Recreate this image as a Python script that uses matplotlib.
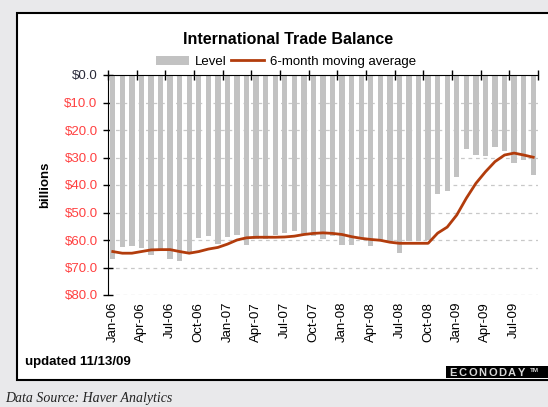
import matplotlib.pyplot as plt
from matplotlib.patches import Rectangle, Patch
from matplotlib.lines import Line2D

plt.rcParams.update({
    "font.family": ["Liberation Sans", "DejaVu Sans"],
    "font.size": 9,
})
BAR, LINE, RED, BG = "#c2c2c2", "#b23c0c", "#ff4040", "#e9e9eb"

# trade deficit, $ billions, Jan-06 .. Sep-09
level = [66.8, 62.5, 62.2, 63.0, 65.3, 63.4, 66.9, 67.8, 64.8, 59.3, 58.6, 61.4,
         58.9, 58.1, 61.7, 59.5, 59.8, 58.1, 57.4, 56.6, 57.9, 58.5, 59.8, 58.4,
         61.8, 61.7, 59.5, 62.2, 60.1, 60.4, 64.9, 60.2, 60.3, 59.9, 43.4, 42.1,
         37.2, 26.8, 29.1, 29.6, 26.3, 27.7, 32.1, 30.9, 36.4]
moving_avg = [64.2, 64.8, 64.8, 64.2, 63.6, 63.5, 63.5, 64.2, 64.8, 64.2, 63.3, 62.7,
              61.5, 60.0, 59.2, 59.0, 59.0, 59.0, 58.9, 58.6, 58.0, 57.6, 57.4, 57.6,
              58.0, 58.8, 59.4, 59.8, 60.1, 60.8, 61.2, 61.2, 61.2, 61.2, 57.5, 55.3,
              50.9, 44.8, 39.4, 35.2, 31.5, 29.1, 28.4, 29.1, 29.9]
quarter_labels = ["Jan-06", "Apr-06", "Jul-06", "Oct-06", "Jan-07", "Apr-07", "Jul-07",
                  "Oct-07", "Jan-08", "Apr-08", "Jul-08", "Oct-08", "Jan-09", "Apr-09",
                  "Jul-09"]
y_ticks = [0, 10, 20, 30, 40, 50, 60, 70, 80]

n = len(level)
x = list(range(n))

fig = plt.figure(figsize=(5.48, 4.07), dpi=100, facecolor=BG)
W, H = 548, 407

# white panel with black frame (right side runs off the image)
fig.add_artist(Rectangle((17 / W, 1 - 380 / H), 600 / W, 367 / H, transform=fig.transFigure,
                         facecolor="white", edgecolor="black", lw=1.5, zorder=0))

ax = fig.add_axes([108 / W, 1 - 295 / H, 430 / W, 220 / H])
ax.set_facecolor("white")
ax.bar(x, level, width=0.55, color=BAR, zorder=2)
ax.plot(x, moving_avg, color=LINE, lw=2, zorder=3)

ax.set_xlim(-0.5, n - 0.5)
ax.set_ylim(80, 0)
ax.set_yticks(y_ticks)
ax.set_yticklabels([f"${v:.1f}" for v in y_ticks], fontsize=9.5)
for lab, v in zip(ax.get_yticklabels(), y_ticks):
    lab.set_color("#2a2a3a" if v == 0 else RED)
ax.yaxis.grid(True, ls=(0, (3, 3)), color="#c8c8c8", lw=0.9, zorder=1)
ax.tick_params(axis="y", direction="inout", length=7, width=1, pad=4)

ax.set_xticks(x[::3])
ax.set_xticklabels(quarter_labels, rotation=90, fontsize=9.5)
ax.set_xticks([i - 0.5 for i in range(0, n + 1, 3)], minor=True)
ax.tick_params(axis="x", which="major", length=0, pad=5)
ax.tick_params(axis="x", which="minor", bottom=False, top=True, direction="inout",
               length=7, width=1)
ax.spines["bottom"].set_visible(False)
ax.spines["right"].set_visible(False)

ax.set_ylabel("billions", fontsize=9.5, fontweight="bold")
ax.yaxis.set_label_coords(-57 / 430, 0.5)

fig.text(288 / W, 1 - 40 / H, "International Trade Balance", ha="center", va="center",
         fontsize=11.5, fontweight="bold")
handles = [Patch(facecolor=BAR, edgecolor="none"), Line2D([], [], color=LINE, lw=2)]
fig.legend(handles, ["Level", "6-month moving average"], loc="center",
           bbox_to_anchor=(286 / W, 1 - 62 / H), ncol=2, frameon=False, fontsize=9.5,
           handlelength=2.5, handletextpad=0.4, columnspacing=0.4, borderpad=0)

fig.text(25 / W, 1 - 362 / H, "updated 11/13/09", fontsize=9.5, fontweight="bold",
         va="center")

# logo strip
fig.add_artist(Rectangle((446 / W, 1 - 377.5 / H), 110 / W, 12 / H, transform=fig.transFigure,
                         facecolor="black", edgecolor="none", zorder=2))
for k, ch in enumerate("ECONODAY"):
    fig.text((449 + k * 9.8) / W, 1 - 376 / H, ch, fontsize=8, fontweight="bold",
             color="#d8d8d8", va="baseline", ha="left", zorder=3)
fig.text(530 / W, 1 - 371 / H, "TM", fontsize=4.5, fontweight="bold", color="#d8d8d8",
         va="center", ha="left", zorder=3)

fig.text(5 / W, 1 - 392 / H, "Data Source: Haver Analytics", fontsize=10, style="italic",
         family=["Liberation Serif", "DejaVu Serif"], va="top", color="#222222")

fig.savefig("out.png", dpi=100, facecolor=BG)
